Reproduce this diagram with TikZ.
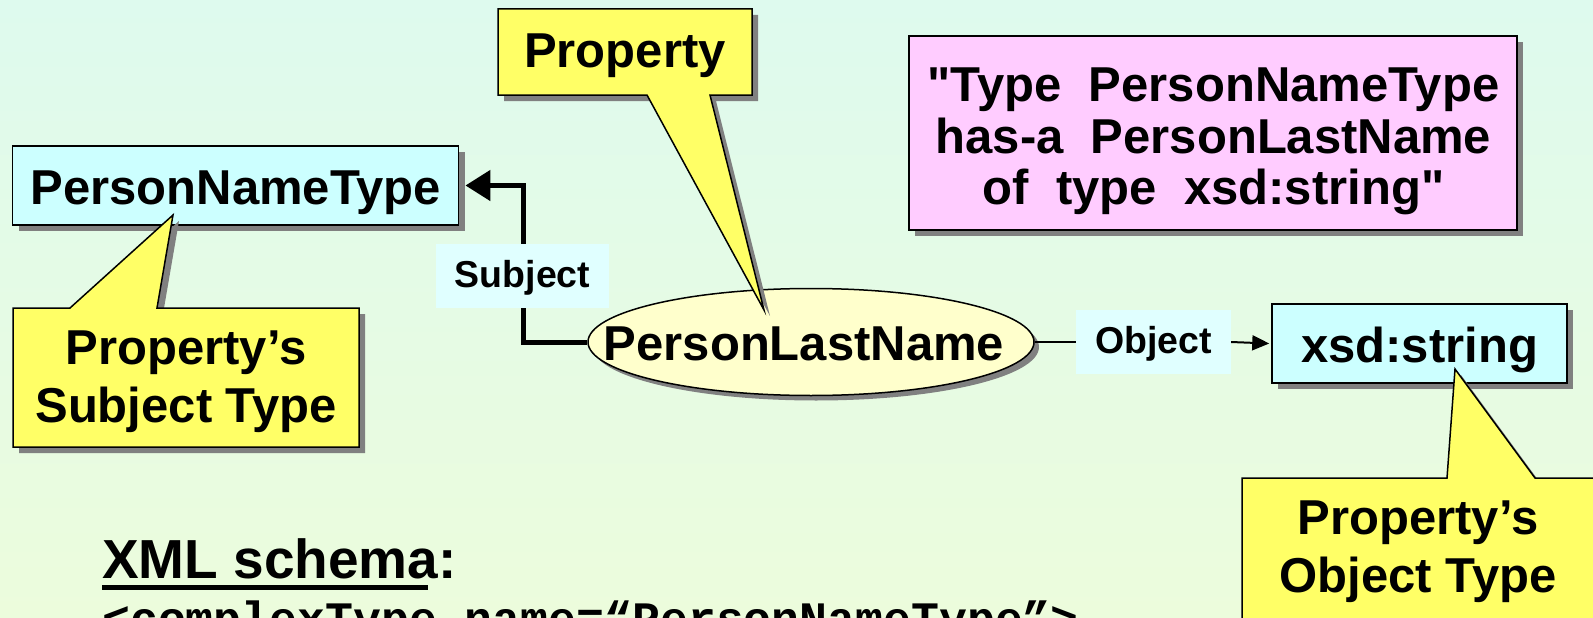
\documentclass[tikz,border=0pt]{standalone}
\usepackage{fontspec}
\setmainfont{Liberation Sans}
\newfontfamily\rawsans{Liberation Sans}
\newfontfamily\codefont{Liberation Mono}
\usetikzlibrary{shapes.geometric,shadows,arrows.meta}
\definecolor{bgtop}{RGB}{222,250,238}
\definecolor{bgbot}{RGB}{236,252,220}
\definecolor{cyanbox}{RGB}{204,255,255}
\definecolor{labelbox}{RGB}{224,255,255}
\definecolor{callyel}{RGB}{255,255,102}
\definecolor{ellyel}{RGB}{255,255,204}
\definecolor{pinkbox}{RGB}{255,204,255}
\definecolor{shadowgray}{RGB}{128,128,128}
\tikzset{
  shad/.style={drop shadow={shadow xshift=6pt,shadow yshift=-6pt,fill=shadowgray,opacity=1}},
  bigtext/.style={font=\fontsize{49}{58}\selectfont\bfseries},
  typebox/.style={draw=black,line width=1.5pt,fill=cyanbox,shad,inner sep=0pt,bigtext,
    text height=37pt,text depth=0pt},
  edgelabel/.style={fill=labelbox,inner sep=0pt,font=\fontsize{37.5}{40}\selectfont\bfseries,
    text height=23pt,text depth=0pt},
  calloutshape/.style={draw=black,line width=1.5pt,fill=callyel,line join=miter,shad},
  propellipse/.style={ellipse,draw=black,line width=1.5pt,fill=ellyel,inner sep=0pt,
    drop shadow={shadow xshift=5pt,shadow yshift=-5pt,fill=shadowgray,opacity=1}},
  notebox/.style={draw=black,line width=1.5pt,fill=pinkbox,shad,inner sep=0pt},
  subjarrow/.style={line width=5pt,-{Triangle[length=25pt,width=30pt]}},
  objline/.style={line width=1.5pt},
  objarrow/.style={line width=2pt,-{Triangle[length=17pt,width=15pt]}},
}
\begin{document}
\begin{tikzpicture}[x=1pt,y=-1pt]
\useasboundingbox (0,0) rectangle (1593,618);
\clip (0,0) rectangle (1593,618);
\fill[top color=bgtop,bottom color=bgbot] (0,0) rectangle (1593,618);

% pink statement
\node[notebox,minimum width=608pt,minimum height=194pt] (pink) at (1213,133) {};
\node[align=center,inner sep=0pt,font=\rawsans\fontsize{49}{51.5}\selectfont\bfseries] (pinktext) at (1213.5,141.5)
  {"Type\ \ PersonNameType\\has-a\ \ PersonLastName\\of\ \ type\ \ xsd:string"};

% type boxes
\node[typebox,minimum width=446pt,minimum height=79pt] (pnt) at (235.7,185.5) {PersonNameType};
\node[typebox,minimum width=295pt,minimum height=79pt] (xsd) at (1419.5,343.5) {xsd:string};

% property ellipse
\node[propellipse,minimum width=446pt,minimum height=107pt] (pln) at (811,342) {};
\node[bigtext,anchor=base,inner sep=0pt] (plntext) at (804,360) {PersonLastName};

% subject connector
\coordinate (pntarrow) at ([xshift=6pt]pnt.east);
\draw[subjarrow] (pln.west) -- ++(-64,0) |- (pntarrow);
\node[edgelabel,minimum width=173pt,minimum height=64pt] (subj) at (522.5,276) {Subject};

% object connector
\node[edgelabel,minimum width=155pt,minimum height=64pt] (obj) at (1153.5,342) {Object};
\draw[objline] (pln.east) -- (obj.west);
\draw[objarrow] (obj.east) -- ([xshift=-2pt]xsd.west);

% callouts
\filldraw[calloutshape] (498,9) -- (752,9) -- (752,95) -- (710,95) -- (764,310) -- (647,95) -- (498,95) -- cycle;
\node[bigtext,anchor=base,inner sep=0pt] (propc) at (625,67) {Property};

\filldraw[calloutshape] (13,308) -- (70,308) -- (173,215) -- (157,308) -- (359,308) -- (359,447) -- (13,447) -- cycle;
\node[bigtext,align=center,inner sep=0pt] (subjc) at (186,382) {Property’s\\Subject Type};

\filldraw[calloutshape] (1242,478) -- (1447,478) -- (1455,369) -- (1535,478) -- (1610,478) -- (1610,650) -- (1242,650) -- cycle;
\node[bigtext,align=center,inner sep=0pt] (objc) at (1418,551.5) {Property’s\\Object Type};

% XML schema
\node[anchor=base west,inner sep=0pt,font=\fontsize{55}{60}\selectfont\bfseries] (xml) at (102,578) {XML schema:};
\draw[line width=5pt] ([yshift=-9pt]xml.base west) -- ++(326,0);
\node[anchor=base west,inner sep=0pt,font=\codefont\fontsize{46.5}{50}\selectfont\bfseries] (code) at (102,634) {<complexType name=“PersonNameType”>};
\end{tikzpicture}
\end{document}
